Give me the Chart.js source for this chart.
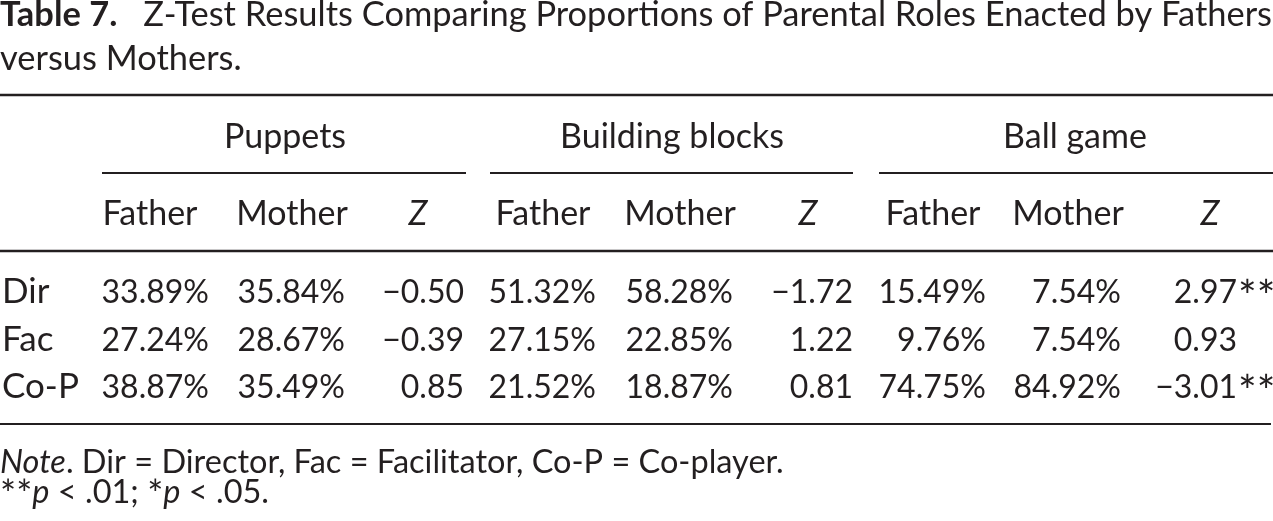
<!DOCTYPE html>
<html>
<head>
<meta charset="utf-8">
<script src="https://cdn.jsdelivr.net/npm/chart.js@4"></script>
<style>
  html, body { margin: 0; padding: 0; background: #ffffff; }
  #wrap { width: 1273px; height: 521px; }
</style>
</head>
<body>
<div id="wrap"><canvas id="c" width="1273" height="521"></canvas></div>
<script>
// ---------- DATA ----------
const tableLabel = 'Table 7.';
const titleLine1 = 'Z-Test Results Comparing Propor\u200Ctions of Parental Roles Enacted by Fathers';
const titleLine2 = 'versus Mothers.';
const toys = ['Puppets', 'Building blocks', 'Ball game'];
const subCols = ['Father', 'Mother', 'Z'];
const roles = ['Dir', 'Fac', 'Co-P'];
const puppetsFather = [33.89, 27.24, 38.87];
const puppetsMother = [35.84, 28.67, 35.49];
const puppetsZ = [-0.50, -0.39, 0.85];
const blocksFather = [51.32, 27.15, 21.52];
const blocksMother = [58.28, 22.85, 18.87];
const blocksZ = [-1.72, 1.22, 0.81];
const ballFather = [15.49, 9.76, 74.75];
const ballMother = [7.54, 7.54, 84.92];
const ballZ = [2.97, 0.93, -3.01];
const ballSig = ['**', '', '**'];
const noteText = ' Dir = Director, Fac = Facilitator, Co-P = Co-player.';

// ---------- LAYOUT (positions in scale units) ----------
const W = 1273, H = 521;
const FONT = 'Lato, "Open Sans", sans-serif';
const INK = '#231f20';
const titleBase = [26, 70];
const ruleTop = 95, ruleMid = 251, ruleBottom = 424;
const groupBase = 148, groupCenters = [285, 672, 1075];
const subRuleY = 173, subRuleSpans = [[102, 466], [490, 853], [879, 1273]];
const subBase = 225;
const subCenters = [150, 292, 418, 543, 680, 808, 933, 1068, 1210];
const colRight = [209, 345, 464, 596, 733, 853, 986, 1121, 1237];
const rowBase = [303, 351, 398];
const rowLabelX = 2;
const noteBase = [473, 503];

function pct(v) { return v.toFixed(2) + '%'; }
function zfmt(v) { return (v < 0 ? '\u2212' : '') + Math.abs(v).toFixed(2); }

const tablePlugin = {
  id: 'tableDraw',
  afterDraw(chart) {
    const ctx = chart.ctx;
    const xs = chart.scales.x, ys = chart.scales.y;
    const X = v => xs.getPixelForValue(v);
    const Y = v => ys.getPixelForValue(v);
    ctx.save();
    ctx.fillStyle = INK;
    ctx.strokeStyle = INK;
    ctx.textBaseline = 'alphabetic';

    // Title: fit first line to full width
    ctx.textAlign = 'left';
    const gap = 0.75;
    const measure = (s) => {
      ctx.font = `bold ${s}px ${FONT}`;
      const a = ctx.measureText(tableLabel).width;
      ctx.font = `${s}px ${FONT}`;
      const b = ctx.measureText(titleLine1).width;
      return a + b + gap * s;
    };
    let fs = 30;
    for (let it = 0; it < 3; it++) fs = fs * (X(W) - X(0) - 1) / measure(fs);
    ctx.font = `bold ${fs}px ${FONT}`;
    ctx.fillText(tableLabel, X(0), Y(titleBase[0]));
    const lw = ctx.measureText(tableLabel).width;
    ctx.font = `${fs}px ${FONT}`;
    ctx.fillText(titleLine1, X(0) + lw + gap * fs, Y(titleBase[0]));
    ctx.fillText(titleLine2, X(0), Y(titleBase[1]));

    // Rules
    const hline = (y, x0, x1, w) => {
      ctx.lineWidth = w;
      ctx.beginPath();
      ctx.moveTo(X(x0), Y(y));
      ctx.lineTo(X(x1), Y(y));
      ctx.stroke();
    };
    hline(ruleTop, 0, W, 2.5);
    hline(ruleMid, 0, W, 2.5);
    hline(ruleBottom, 0, 1271, 2);
    subRuleSpans.forEach(s => hline(subRuleY, s[0], s[1], 2.2));

    const labelFont = `34px ${FONT}`;
    const italFont = `italic 34px ${FONT}`;
    const numFont = `32px ${FONT}`;
    const rowFont = `35px ${FONT}`;

    // Group headers
    ctx.font = labelFont;
    ctx.textAlign = 'center';
    toys.forEach((t, i) => ctx.fillText(t, X(groupCenters[i]), Y(groupBase)));

    // Sub headers
    for (let g = 0; g < toys.length; g++) {
      subCols.forEach((s, j) => {
        const k = g * 3 + j;
        ctx.font = s === 'Z' ? italFont : labelFont;
        ctx.fillText(s, X(subCenters[k]), Y(subBase));
      });
    }

    // Body rows
    const cols = [
      puppetsFather.map(pct), puppetsMother.map(pct), puppetsZ.map(zfmt),
      blocksFather.map(pct), blocksMother.map(pct), blocksZ.map(zfmt),
      ballFather.map(pct), ballMother.map(pct), ballZ.map(zfmt)
    ];
    roles.forEach((r, i) => {
      ctx.font = rowFont;
      ctx.textAlign = 'left';
      ctx.fillText(r, X(rowLabelX), Y(rowBase[i]));
      ctx.font = numFont;
      ctx.textAlign = 'right';
      cols.forEach((c, k) => ctx.fillText(c[i], X(colRight[k]), Y(rowBase[i])));
      if (ballSig[i]) {
        ctx.textAlign = 'left';
        ctx.font = `44px ${FONT}`;
        ctx.fillText(ballSig[i], X(colRight[8] + 1), Y(rowBase[i] + 9));
      }
    });

    // Note lines
    const nf = 32.5;
    const seg = (parts, x, y) => {
      ctx.textAlign = 'left';
      let cx = X(x);
      parts.forEach(p => {
        ctx.font = `${p[1] ? 'italic ' : ''}${p[2] || nf}px ${FONT}`;
        ctx.fillText(p[0], cx, Y(y + (p[3] || 0)));
        cx += ctx.measureText(p[0]).width;
      });
    };
    seg([['Note', true], ['.', false], [noteText, false]], 0, noteBase[0]);
    seg([['**', false, 38, 5], ['p', true], [' < .01; ', false], ['*', false, 38, 5], ['p', true], [' < .05.', false]], 0, noteBase[1]);

    ctx.restore();
  }
};

function build() {
  new Chart(document.getElementById('c'), {
    type: 'scatter',
    data: { datasets: [{ data: [], pointRadius: 0 }] },
    options: {
      responsive: false,
      animation: false,
      devicePixelRatio: 1,
      layout: { padding: 0 },
      plugins: { legend: { display: false }, tooltip: { enabled: false }, title: { display: false } },
      scales: {
        x: { type: 'linear', min: 0, max: W, display: false },
        y: { type: 'linear', min: 0, max: H, reverse: true, display: false }
      }
    },
    plugins: [tablePlugin]
  });
}
if (document.fonts && document.fonts.load) {
  Promise.all([
    document.fonts.load('32px Lato'), document.fonts.load('bold 32px Lato'), document.fonts.load('italic 32px Lato')
  ]).then(build, build);
} else { build(); }
</script>
</body>
</html>
